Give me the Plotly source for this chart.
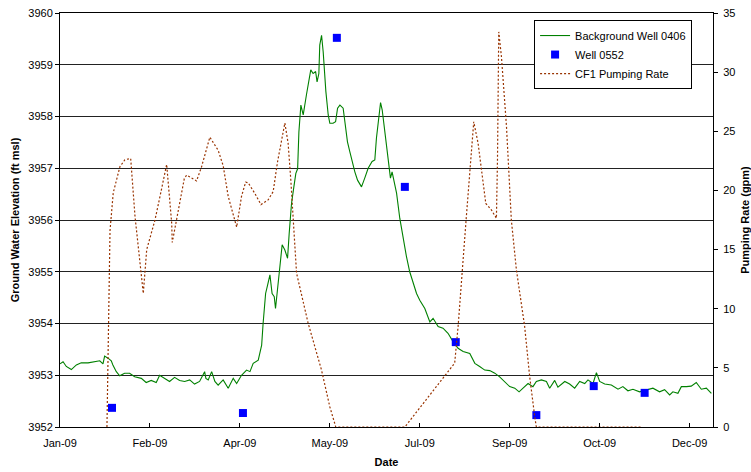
import pandas as pd
import plotly.graph_objects as go

BASE = pd.Timestamp("2009-01-01")

# Background Well 0406 (day offset from 2009-01-01, elevation ft msl)
bg_day = [0, 1.7, 3.5, 6.3, 9.1, 11.8, 15.6, 19.3, 22.1, 23.9, 24.8, 26.7, 28.5, 29.4, 31.3, 33.2,
          35.9, 38.7, 41.5, 45.2, 47.9, 50.7, 53.5, 55.4, 58.2, 60.9, 63.7, 66.5, 69.3, 72.1, 74.8,
          77.6, 80.4, 81.1, 82.4, 84.3, 86.1, 87.9, 90.7, 93.5, 96.3, 98.2, 100.9, 103.7, 105.6,
          107.4, 110.2, 112.1, 112.9, 114.3, 115.4, 116.7, 117.9, 119.1, 119.8, 121.3, 122.2,
          123.5, 125.0, 126.5, 127.4, 128.7, 130.0, 131.1, 132.1, 132.8, 133.9, 135.2, 137.0,
          137.9, 139.4, 140.7, 142.1, 142.9, 143.9, 144.4, 145.4, 146.3, 146.8, 147.8, 149.1,
          150.0, 151.8, 153.2, 154.3, 155.6, 157.4, 158.3, 159.8, 161.1, 162.4, 163.9, 165.4,
          167.6, 169.4, 171.3, 173.5, 175.0, 175.9, 177.2, 178.2, 179.1, 180.2, 181.5, 182.8,
          183.7, 184.6, 185.7, 187.1, 188.9, 190.2, 191.7, 192.6, 194.4, 196.3, 198.2, 200.0,
          202.8, 205.6, 207.4, 210.2, 212.9, 215.7, 218.5, 221.3, 224.1, 227.8, 230.6, 233.3,
          236.1, 238.9, 241.7, 244.4, 247.2, 250.0, 252.8, 255.2, 257.4, 260.2, 262.9, 264.8,
          267.6, 270.4, 272.2, 275.0, 276.8, 280.6, 283.3, 286.1, 288.9, 291.7, 293.5, 296.3,
          298.2, 300.0, 302.8, 306.5, 310.2, 312.9, 315.7, 318.5, 322.2, 325.9, 329.6, 333.3,
          336.1, 338.9, 340.7, 343.5, 345.4, 348.2, 350.9, 353.7, 356.5, 359.3, 362.1]
bg_elev = [3953.22, 3953.26, 3953.17, 3953.11, 3953.20, 3953.24, 3953.24, 3953.26, 3953.28, 3953.22,
           3953.37, 3953.33, 3953.28, 3953.20, 3953.07, 3952.99, 3953.04, 3953.04, 3952.97, 3952.94,
           3952.86, 3952.90, 3952.86, 3953.00, 3952.94, 3952.88, 3952.96, 3952.90, 3952.88, 3952.91,
           3952.83, 3952.88, 3953.07, 3952.94, 3952.91, 3953.07, 3952.88, 3952.81, 3952.91, 3952.75,
           3952.94, 3952.84, 3953.00, 3953.10, 3953.07, 3953.23, 3953.29, 3953.58, 3954.00, 3954.58,
           3954.74, 3954.94, 3954.58, 3954.52, 3954.29, 3954.84, 3955.10, 3955.52, 3955.42, 3955.26,
           3955.74, 3956.32, 3956.64, 3956.90, 3956.99, 3957.70, 3958.22, 3958.03, 3958.42, 3958.61,
           3958.90, 3958.83, 3958.87, 3958.67, 3958.83, 3959.38, 3959.57, 3959.25, 3958.93, 3958.48,
           3958.03, 3957.87, 3957.87, 3957.90, 3958.16, 3958.22, 3958.16, 3957.90, 3957.51, 3957.32,
           3957.13, 3956.93, 3956.77, 3956.64, 3956.81, 3957.00, 3957.13, 3957.16, 3957.58, 3958.03,
           3958.27, 3958.13, 3957.84, 3957.45, 3957.13, 3956.81, 3956.93, 3956.74, 3956.52, 3956.03,
           3955.74, 3955.46, 3955.29, 3955.00, 3954.78, 3954.58, 3954.45, 3954.29, 3954.03, 3954.10,
           3953.94, 3953.91, 3953.81, 3953.65, 3953.52, 3953.46, 3953.42, 3953.23, 3953.17, 3953.10,
           3953.09, 3953.04, 3952.97, 3952.88, 3952.78, 3952.75, 3952.68, 3952.75, 3952.84, 3952.78,
           3952.88, 3952.91, 3952.88, 3952.75, 3952.90, 3952.77, 3952.88, 3952.83, 3952.75, 3952.88,
           3952.84, 3952.91, 3952.84, 3953.05, 3952.88, 3952.83, 3952.81, 3952.73, 3952.78, 3952.70,
           3952.73, 3952.68, 3952.72, 3952.75, 3952.68, 3952.72, 3952.62, 3952.68, 3952.65, 3952.78,
           3952.78, 3952.79, 3952.86, 3952.73, 3952.75, 3952.65]

# Well 0552 measurements
w552_day = [28.9, 101.7, 153.9, 191.7, 220.0, 264.8, 296.7, 325.0]
w552_elev = [3952.37, 3952.27, 3959.52, 3956.64, 3953.64, 3952.23, 3952.79, 3952.66]

# CF1 pumping rate (gpm)
pump_day = [26.1, 27.8, 29.6, 33.3, 36.1, 39.3, 41.7, 45.0, 46.3, 48.2, 52.8, 55.6, 59.3, 60.2,
            62.1, 62.4, 64.8, 69.1, 70.4, 75.9, 78.7, 83.3, 87.9, 90.7, 93.5, 96.3, 98.2, 100.9,
            103.2, 104.6, 108.3, 111.7, 115.7, 118.5, 120.9, 125.0, 126.8, 128.3, 130.0, 131.5,
            137.9, 145.4, 150.0, 153.3, 191.7, 219.4, 221.3, 224.0, 225.9, 228.2, 230.0, 232.4,
            235.2, 236.7, 239.8, 242.6, 243.2, 243.5, 243.9, 245.4, 248.2, 250.9, 253.7, 258.3,
            261.1, 263.9, 264.8, 323.2]
pump_gpm = [0, 16.6, 19.8, 22.0, 22.6, 22.7, 17.8, 13.5, 11.3, 15.0, 17.5, 19.5, 22.2, 20.6,
            17.2, 15.6, 17.5, 21.0, 21.3, 20.8, 22.0, 24.5, 23.4, 22.1, 19.5, 17.8, 16.9, 19.5,
            20.7, 20.65, 19.75, 18.8, 19.2, 19.9, 22.4, 25.7, 24.0, 20.9, 16.9, 13.0,
            8.8, 4.8, 1.7, 0, 0, 5.4, 8.5, 14.4, 17.8, 22.3, 25.8, 24.0,
            20.6, 18.9, 18.35, 17.65, 22.6, 29.6, 33.4, 31.3, 25.4, 17.5, 13.3, 8.5,
            4.25, 0.87, 0, 0]

tick_dates = ["2009-01-01", "2009-02-20", "2009-04-11", "2009-05-31",
              "2009-07-20", "2009-09-08", "2009-10-28", "2009-12-17"]
tick_labels = ["Jan-09", "Feb-09", "Apr-09", "May-09", "Jul-09", "Sep-09", "Oct-09", "Dec-09"]


def to_dates(days):
    return [BASE + pd.Timedelta(days=d) for d in days]


FONT = "Liberation Sans, Arial, sans-serif"

fig = go.Figure()
fig.add_trace(go.Scatter(x=to_dates(bg_day), y=bg_elev, mode="lines",
                         name="Background Well 0406",
                         line=dict(color="#008000", width=1.1)))
fig.add_trace(go.Scatter(x=to_dates(w552_day), y=w552_elev, mode="markers",
                         name="Well 0552",
                         marker=dict(symbol="square", size=8, color="#0000FF",
                                     line=dict(width=0))))
fig.add_trace(go.Scatter(x=to_dates(pump_day), y=pump_gpm, mode="lines",
                         name="CF1 Pumping Rate", yaxis="y2",
                         line=dict(color="#993300", width=1.2, dash="2px,2px")))

axis_common = dict(showline=True, linecolor="black", linewidth=1, automargin=False,
                   tickfont=dict(family=FONT, size=11, color="black"),
                   ticks="outside", ticklen=4, tickcolor="black", zeroline=False)

fig.update_layout(
    width=751, height=472,
    margin=dict(l=60, r=38, t=13, b=45, autoexpand=False),
    paper_bgcolor="white", plot_bgcolor="white",
    font=dict(family=FONT, size=11, color="black"),
    xaxis=dict(**{**axis_common, "ticks": "inside"},
               range=[BASE, BASE + pd.Timedelta(days=363)],
               tickvals=tick_dates, ticktext=tick_labels,
               showgrid=False, mirror=True, ticklabelstandoff=6,
               title=dict(text="<b>Date</b>", font=dict(family=FONT, size=11), standoff=10)),
    yaxis=dict(**axis_common, range=[3952, 3960], dtick=1, tickformat="d",
               showgrid=True, gridcolor="#222222", gridwidth=1,
               title=dict(text="<b>Ground Water Elevation (ft msl)</b>",
                          font=dict(family=FONT, size=11), standoff=6)),
    yaxis2=dict(**axis_common, range=[0, 35], dtick=5, overlaying="y", side="right",
                showgrid=False, ticklabelstandoff=3,
                title=dict(text="<b>Pumping Rate (gpm)</b>",
                           font=dict(family=FONT, size=11), standoff=10)),
    legend=dict(x=0.726, y=0.983, xanchor="left", yanchor="top",
                bgcolor="white", bordercolor="black", borderwidth=1,
                font=dict(family=FONT, size=11), itemwidth=30,
                tracegroupgap=0),
    showlegend=True,
)

fig.write_html("out.html")
